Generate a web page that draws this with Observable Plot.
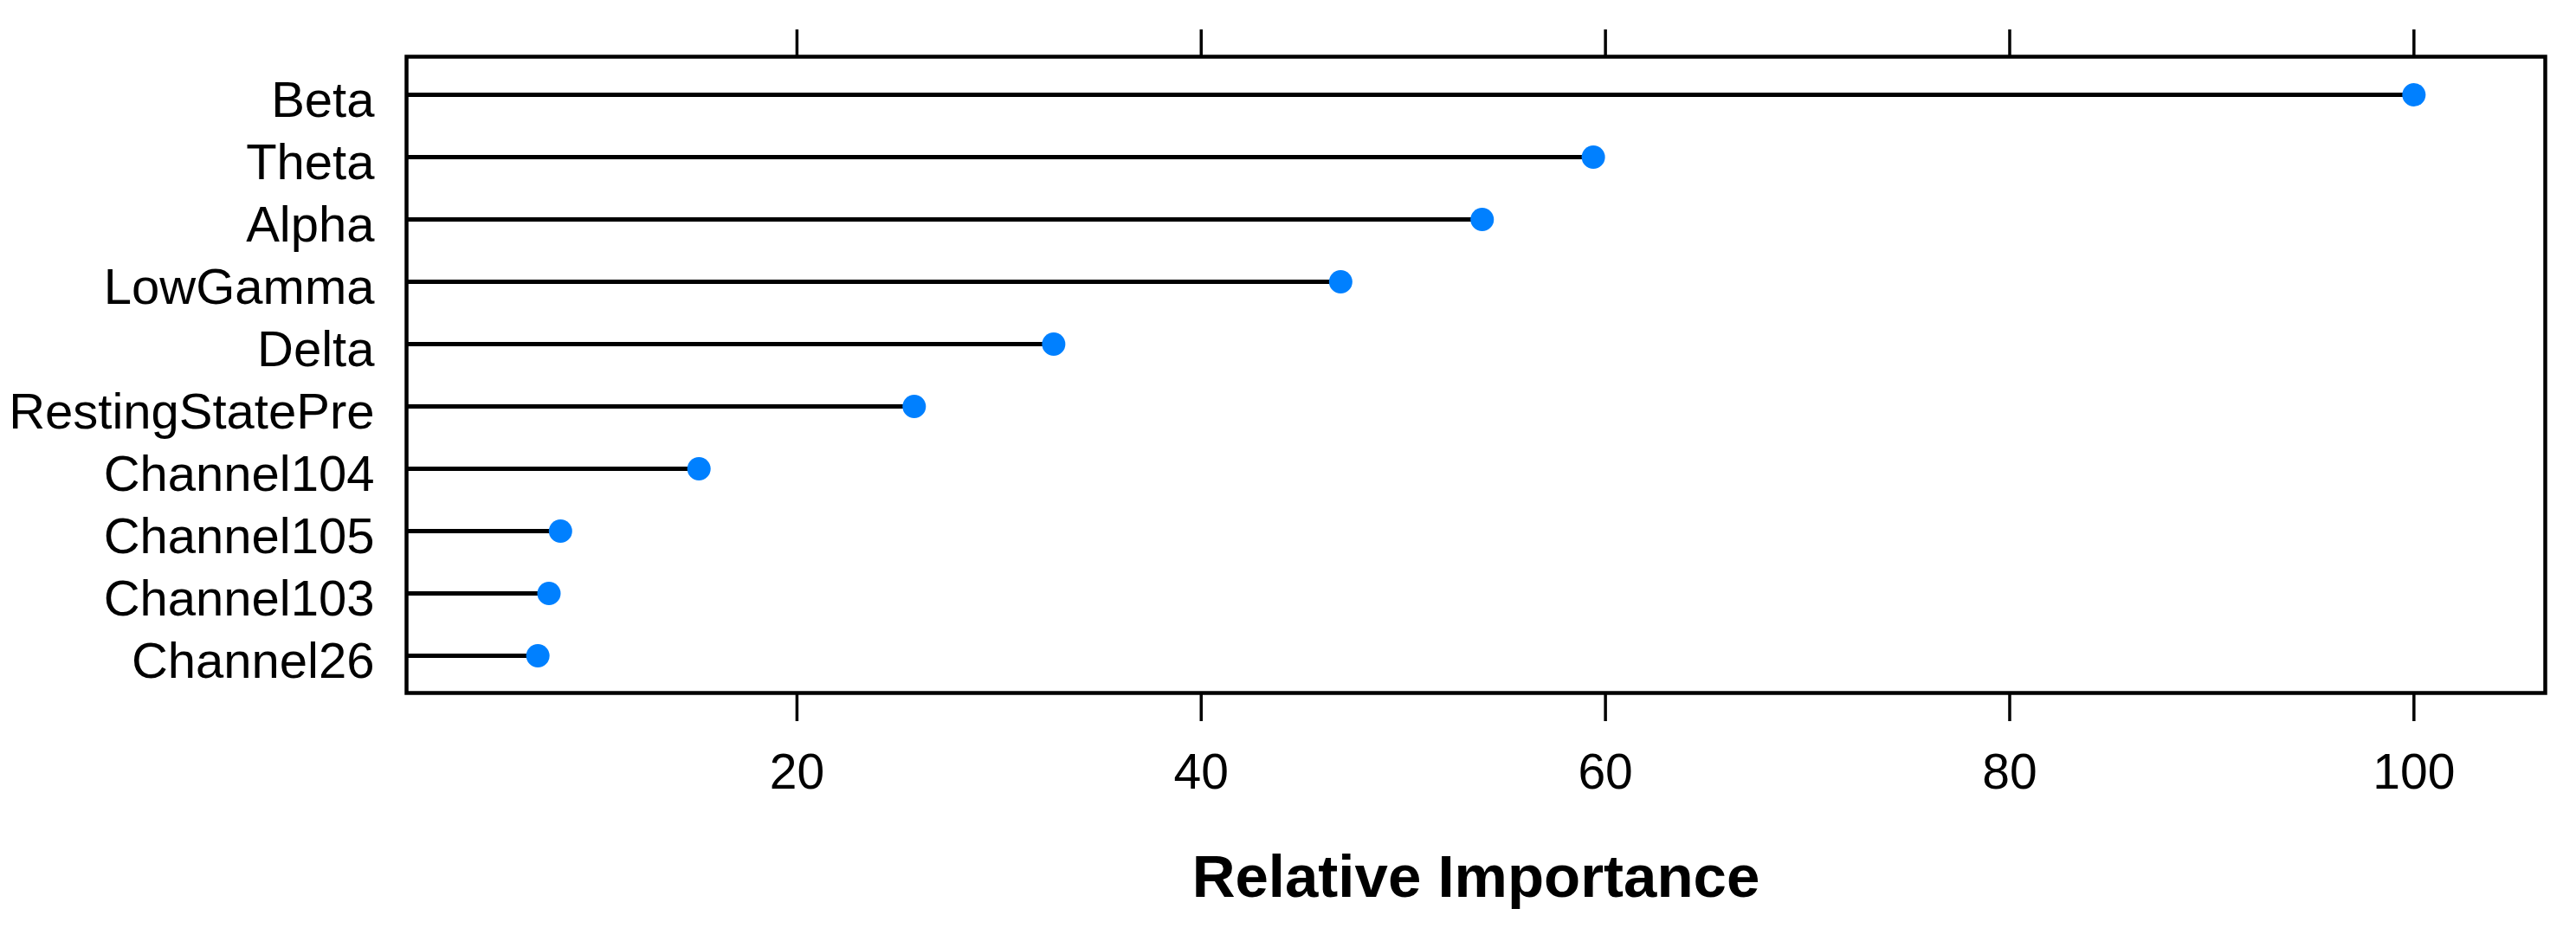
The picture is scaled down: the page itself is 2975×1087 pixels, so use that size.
<!DOCTYPE html>
<html>
<head>
<meta charset="utf-8">
<script src="https://cdn.jsdelivr.net/npm/d3@7"></script>
<script src="https://cdn.jsdelivr.net/npm/@observablehq/plot@0.6"></script>
<style>
  html, body { margin: 0; padding: 0; background: #ffffff; }
  #chart svg { display: block; }
</style>
</head>
<body>
<div id="chart"></div>
<script>
// Variables, top to bottom as drawn
const variables = ["Beta", "Theta", "Alpha", "LowGamma", "Delta", "RestingStatePre",
                   "Channel104", "Channel105", "Channel103", "Channel26"];
// Relative importance
const importance = [100, 59.4, 53.9, 46.9, 32.7, 25.8, 15.15, 8.3, 7.73, 7.18];
// Axis ticks
const xTicks = [20, 40, 60, 80, 100];
const xLabel = "Relative Importance";

const data = variables.map((v, i) => ({name: v, value: importance[i]}));

// lattice-style padding: 7% of the data range on each side
const lo = d3.min(importance), hi = d3.max(importance);
const pad = 0.07 * (hi - lo);
const xDomain = [lo - pad, hi + pad];

const chart = Plot.plot({
  width: 2975,
  height: 1087,
  marginLeft: 469,
  marginRight: 36,
  marginTop: 65,
  marginBottom: 287,
  style: {fontFamily: "'Liberation Sans', Arial, sans-serif", background: "#ffffff", color: "#000"},
  x: {domain: xDomain},
  y: {type: "point", domain: variables, padding: 0.6},
  marks: [
    Plot.ruleY(data, {y: "name", x1: xDomain[0], x2: "value", stroke: "#000", strokeWidth: 5}),
    Plot.dot(data, {y: "name", x: "value", r: 13.5, fill: "#0080ff", stroke: "none"}),
    Plot.frame({stroke: "#000", strokeWidth: 4.5}),
    Plot.axisX({anchor: "bottom", ticks: xTicks, tickSize: 33, tickPadding: 37,
                strokeWidth: 3.5, fontSize: 57, label: null, fill: "#000"}),
    Plot.axisX({anchor: "top", ticks: xTicks, tickSize: 32, strokeWidth: 3.5,
                tickFormat: () => "", label: null}),
    Plot.axisY({anchor: "left", tickSize: 0, tickPadding: 37, fontSize: 58,
                label: null, dy: 7, fill: "#000"}),
    Plot.text([xLabel], {frameAnchor: "bottom", dy: 235, lineAnchor: "bottom",
                fontSize: 69, fontWeight: "bold", fill: "#000"})
  ]
});

document.getElementById("chart").appendChild(chart);
</script>
</body>
</html>
